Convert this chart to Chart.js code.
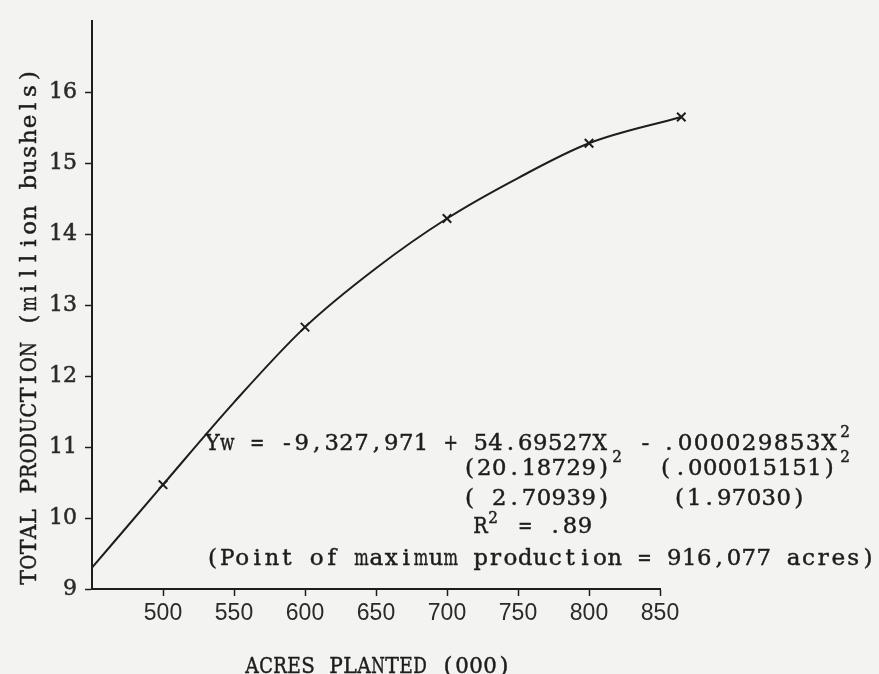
<!DOCTYPE html>
<html>
<head>
<meta charset="utf-8">
<script src="https://cdn.jsdelivr.net/npm/chart.js@4"></script>
<style>
  html, body { margin: 0; padding: 0; background: #f3f3f1; }
  #wrap { width: 879px; height: 674px; }
</style>
</head>
<body>
<div id="wrap"><canvas id="myChart" width="879" height="674"></canvas></div>
<script>
// acres planted (000) and total production (million bushels)
const acres = [450, 500, 550, 600, 650, 700, 750, 800, 865];
const production = [9.3, 10.47, 11.63, 12.69, 13.52, 14.22, 14.79, 15.28, 15.65];
// only the plotted observations carry an x mark
const markerSize = [0, 6, 0, 6, 0, 6, 0, 6, 6];
const xTicks = [500, 550, 600, 650, 700, 750, 800, 850];
const yTicks = [9, 10, 11, 12, 13, 14, 15, 16];

const ink = '#1d1d1d';
const serif = '"DejaVu Serif", "Liberation Serif", serif';

// equation block, typed text pieces: [x, baseline, text, size, pitch]
const eqText = [
  [205, 450, 'Yw = -9,327,971 + 54.69527X', 22, 14.9],
  [612, 462, '2', 16, 10],
  [623, 450, ' - ', 22, 14.9],
  [661, 450, '.000029853X', 22, 16],
  [840, 437, '2', 16, 10],
  [840, 462, '2', 16, 10],
  [462, 475, '(20.18729)', 22, 14.9],
  [658, 475, '(.000015151)', 22, 14.9],
  [462, 505, '( 2.70939)', 22, 14.9],
  [672, 505, '(1.97030)', 22, 14.9],
  [473, 533, 'R', 22, 14.9],
  [488, 523, '2', 16, 10],
  [503, 533, ' = .89', 22, 14.9],
  [205, 565, '(Point of maximum production = 916,077 acres)', 22, 14.9]
];

// fixed-pitch typing: each character sits centred in its own cell
function typed(c, text, x, y, size, pitch) {
  c.font = size + 'px ' + serif;
  c.textAlign = 'center';
  c.lineWidth = 0.45;
  for (let i = 0; i < text.length; i++) {
    const ch = text[i];
    if (ch === ' ') continue;
    const w = c.measureText(ch).width;
    const sx = Math.min(1.05, pitch * 0.97 / w);
    c.save();
    c.translate(x + (i + 0.5) * pitch, y);
    c.scale(sx, 1);
    c.fillText(ch, 0, 0);
    c.strokeText(ch, 0, 0);
    c.restore();
  }
}

const paperText = {
  id: 'paperText',
  beforeDraw(chart) {
    const c = chart.ctx;
    c.save();
    c.fillStyle = '#f3f3f1';
    c.fillRect(0, 0, chart.width, chart.height);
    c.restore();
  },
  afterDatasetsDraw(chart) {
    // the last reading sits past the 850 end of the axis; draw its marker too
    const area = chart.chartArea;
    chart.getDatasetMeta(0).data.forEach(p => {
      if (p.x > area.right) p.draw(chart.ctx);
    });
  },
  afterDraw(chart) {
    const c = chart.ctx;
    c.save();
    c.fillStyle = ink;
    c.strokeStyle = ink;
    c.textBaseline = 'alphabetic';
    eqText.forEach(([x, y, t, s, p]) => typed(c, t, x, y, s, p));
    // axis titles
    typed(c, 'ACRES PLANTED (000)', 245, 673, 22, 14);
    c.translate(36, 585);
    c.rotate(-Math.PI / 2);
    typed(c, 'TOTAL PRODUCTION (million bushels)', 0, 0, 22, 15.2);
    c.restore();
  }
};

const ctx = document.getElementById('myChart').getContext('2d');
const myChart = new Chart(ctx, {
  type: 'line',
  data: {
    datasets: [{
      data: acres.map((a, i) => ({ x: a, y: production[i] })),
      borderColor: ink,
      borderWidth: 2,
      cubicInterpolationMode: 'monotone',
      pointStyle: 'crossRot',
      pointRadius: markerSize,
      pointBorderColor: ink,
      pointBorderWidth: 2,
      clip: false,
      fill: false
    }]
  },
  options: {
    responsive: false,
    animation: false,
    layout: { padding: { top: 8, right: 219, left: 0, bottom: 0 } },
    plugins: { legend: { display: false }, tooltip: { enabled: false } },
    scales: {
      x: {
        type: 'linear',
        min: 450,
        max: 850,
        afterFit(scale) { scale.height = 85; },
        afterBuildTicks(scale) { scale.ticks = xTicks.map(v => ({ value: v })); },
        border: { display: true, color: ink, width: 2 },
        grid: { drawOnChartArea: false, drawTicks: true, tickLength: 7, color: ink, tickWidth: 1.5 },
        ticks: {
          color: '#2a2a2a',
          padding: 4,
          maxRotation: 0,
          font: { family: '"Liberation Sans", Arial, sans-serif', size: 23 }
        }
      },
      y: {
        min: 9,
        max: 17,
        afterFit(scale) { scale.width = 92; },
        afterBuildTicks(scale) { scale.ticks = yTicks.map(v => ({ value: v })); },
        border: { display: true, color: ink, width: 2 },
        grid: { drawOnChartArea: false, drawTicks: true, tickLength: 7, color: ink, tickWidth: 1.5 },
        ticks: {
          color: '#2a2a2a',
          padding: 8,
          textStrokeColor: '#2a2a2a',
          textStrokeWidth: 0.5,
          font: { family: serif, size: 22 }
        }
      }
    }
  },
  plugins: [paperText]
});
</script>
</body>
</html>
